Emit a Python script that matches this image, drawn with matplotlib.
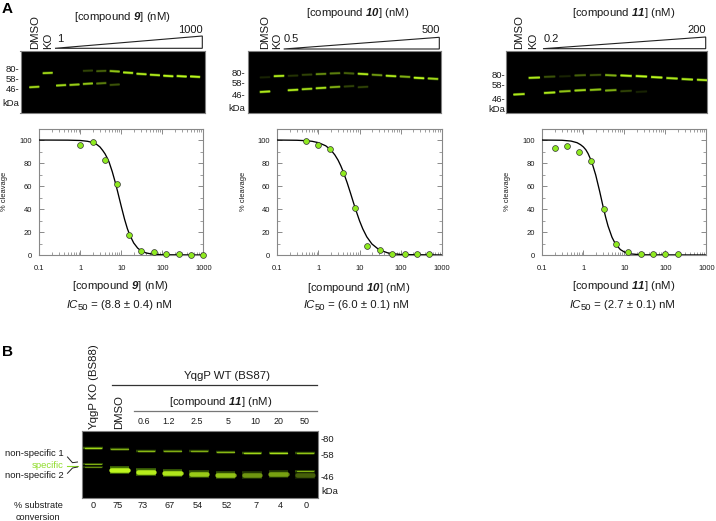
import numpy as np
import matplotlib
matplotlib.use("Agg")
import matplotlib.pyplot as plt
from matplotlib.patches import Polygon
from matplotlib.ticker import FixedLocator, FixedFormatter, LogLocator, NullFormatter

plt.rcParams['font.family'] = ['Liberation Sans', 'DejaVu Sans']
plt.rcParams['mathtext.fontset'] = 'custom'
plt.rcParams['mathtext.rm'] = 'Liberation Sans'
plt.rcParams['mathtext.it'] = 'Liberation Sans:italic'
plt.rcParams['mathtext.bf'] = 'Liberation Sans:bold'
plt.rcParams['mathtext.bfit'] = 'Liberation Sans:italic:bold'

W, H = 716, 521

# dose response points
x9 = [1, 2, 3.9, 7.8, 15.6, 31, 62, 125, 250, 500, 1000]
y9 = [96, 98, 83, 62, 17, 3.5, 3, 0.5, 0.5, 0.3, 0.3]
x10 = [0.49, 0.98, 1.95, 3.9, 7.8, 15.6, 31, 62, 125, 250, 500]
y10 = [99.5, 96, 92, 71.5, 41, 7.5, 4.5, 1, 1, 0.5, 0.5]
x11 = [0.2, 0.39, 0.78, 1.56, 3.1, 6.25, 12.5, 25, 50, 100, 200]
y11 = [93, 95, 90, 82, 40, 10, 2.5, 1, 0.5, 0.8, 1]

# fitted curves
cx9 = [0.1, 0.5, 1, 1.5, 2, 2.5, 3, 3.5, 4, 4.5, 5, 6, 7, 8, 9, 10, 12, 14, 16, 20, 25, 30, 40, 60, 100, 1000]
cy9 = [100, 99.9, 99.6, 98.9, 97.8, 96.2, 94, 91, 88, 84.5, 81, 72.5, 64, 56, 48.6, 42, 31, 23, 17.5, 10.5, 6, 3.8, 1.8, 0.6, 0.2, 0]
cx10 = [0.1, 0.3, 0.5, 0.7, 1, 1.5, 2, 2.5, 3, 3.5, 4, 5, 6, 7, 8, 10, 12, 15, 20, 30, 50, 100, 1000]
cy10 = [100, 99.8, 99.4, 98.9, 97.7, 95, 91.4, 87.1, 82.5, 77.5, 72.5, 62.8, 54, 46.3, 39.8, 29.7, 22.7, 15.8, 9.6, 4.5, 1.7, 0.4, 0]
cx11 = [0.1, 0.3, 0.5, 0.7, 0.85, 1, 1.15, 1.3, 1.6, 2, 2.5, 3, 3.5, 4, 5, 6, 8, 10, 15, 25, 50, 1000]
cy11 = [100, 99.8, 99.1, 97.7, 96, 94, 91.5, 88.3, 81, 69.6, 55.3, 42.7, 32.8, 25.2, 15.4, 9.9, 4.7, 2.6, 0.9, 0.2, 0.1, 0]

# gel A bands per lane (DMSO, KO, then the doses): height and brightness
g9_up = [np.nan, 73, np.nan, np.nan, 70.7, 71, 71.3, 72.7, 74, 75, 76, 76.3, 76.7]
g9_up_i = [0, 0.8, 0, 0, 0.2, 0.3, 0.7, 0.9, 0.9, 0.9, 1, 1, 1]
g9_lo = [87, np.nan, 85.3, 84.7, 83.7, 83.3, 84.7, np.nan, np.nan, np.nan, np.nan, np.nan, np.nan]
g9_lo_i = [0.8, 0, 0.8, 0.75, 0.7, 0.4, 0.25, 0, 0, 0, 0, 0, 0]

g10_up = [77.3, 76, 75.7, 74.7, 74, 73.3, 73.3, 74, 75, 76, 76.7, 78, 78.7]
g10_up_i = [0.1, 0.9, 0.15, 0.2, 0.45, 0.4, 0.3, 0.9, 0.5, 0.9, 0.6, 1, 0.8]
g10_lo = [91.7, np.nan, 90, 89, 88, 87, 86.3, 87, np.nan, np.nan, np.nan, np.nan, np.nan]
g10_lo_i = [0.9, 0, 0.9, 0.8, 0.85, 0.6, 0.2, 0.2, 0, 0, 0, 0, 0]

g11_up = [np.nan, 77.7, 76.7, 76.3, 75.3, 75, 75.3, 75.7, 76.3, 77.3, 78.3, 79.3, 80]
g11_up_i = [0, 0.9, 0.25, 0.1, 0.3, 0.25, 0.6, 0.95, 1, 1, 0.9, 0.9, 0.9]
g11_lo = [94.3, np.nan, 92.7, 91.3, 90.3, 89.7, 90.3, 91, 91.7, np.nan, np.nan, np.nan, np.nan]
g11_lo_i = [0.9, 0, 0.9, 0.7, 0.8, 0.7, 0.6, 0.2, 0.1, 0, 0, 0, 0]

# gel B bands
gb_top = [447.7, 449.3, 451.3, 451.3, 451, 452, 453, 453.3, 452.7]
gb_top_i = [0.8, 0.6, 0.65, 0.6, 0.6, 0.65, 0.8, 0.85, 0.7]
gb_spec = [np.nan, 470, 472.3, 473, 473.7, 475, 475, 474.3, 475]
gb_spec_i = [0, 1, 0.95, 0.9, 0.75, 0.7, 0.5, 0.55, 0.3]
gb_low1 = [463.7, np.nan, np.nan, np.nan, np.nan, np.nan, np.nan, np.nan, 471]
gb_low2 = [467, np.nan, np.nan, np.nan, np.nan, np.nan, np.nan, np.nan, np.nan]
gb_doses = ['0.6', '1.2', '2.5', '5', '10', '20', '50']
gb_conv = ['0', '75', '73', '67', '54', '52', '7', '4', '0']

ytick_major = [0, 20, 40, 60, 80, 100]
ytick_minor = [10, 30, 50, 70, 90]
xtick_major = [0.1, 1, 10, 100, 1000]
xtick_labels = ['0.1', '1', '10', '100', '1000']

TXT = '#1a1a1a'
GEL = '#bdf51e'
GLOW = '#5a9408'
MARK = '#8fea20'

fig = plt.figure(figsize=(W / 100, H / 100), dpi=100, facecolor='white')


def px_axes(x0, y0, x1, y1):
    return fig.add_axes([x0 / W, 1 - y1 / H, (x1 - x0) / W, (y1 - y0) / H])


def band(ax, i, y, level, half=0.38, thick=1.0, tilt=0.0):
    if np.isnan(y) or level <= 0:
        return
    # dim full width stroke, then a shorter bright core so the ends fade out
    ax.plot([i - half, i + half], [y + tilt, y - tilt], color=GLOW, lw=2.1 * thick, alpha=0.75 * level,
            solid_capstyle='butt')
    ax.plot([i - half * 0.85, i + half * 0.85], [y + tilt * 0.85, y - tilt * 0.85], color=GEL, lw=1.25 * thick,
            alpha=level, solid_capstyle='round')


def gel(box, first, step):
    x0, y0, x1, y1 = box
    ax = px_axes(x0, y0, x1, y1)
    ax.set_xlim((x0 - first) / step, (x1 - first) / step)
    ax.set_ylim(y1, y0)
    ax.set_facecolor('black')
    ax.set_xticks([])
    ax.set_yticks([])
    for s in ax.spines.values():
        s.set_color('#808080')
        s.set_linewidth(0.8)
    return ax


def gel_a(box, first, step, up, up_i, lo, lo_i):
    ax = gel(box, first, step)
    for i in range(len(up)):
        band(ax, i, up[i], up_i[i], tilt=-0.3 if i > 5 else 0.2)
        band(ax, i, lo[i], lo_i[i], tilt=0.3)


def curve_panel(box, px, py, cx, cy):
    ax = px_axes(*box)
    ax.set_xscale('log')
    ax.set_xlim(0.1, 1000)
    ax.set_ylim(0, 109.6)
    ax.plot(cx, cy, color='black', lw=0.95, zorder=3)
    ax.plot(px, py, 'o', ms=4.2, mfc=MARK, mec='#333333', mew=0.5, clip_on=False, zorder=4)
    ax.xaxis.set_major_locator(FixedLocator(xtick_major))
    ax.xaxis.set_major_formatter(FixedFormatter(xtick_labels))
    ax.xaxis.set_minor_locator(LogLocator(base=10, subs=np.arange(2, 10), numticks=10))
    ax.xaxis.set_minor_formatter(NullFormatter())
    ax.set_yticks(ytick_major)
    ax.set_yticks(ytick_minor, minor=True)
    ax.tick_params(axis='both', which='major', direction='in', top=True, right=True,
                   length=3.3, width=0.6, color='#777777', labelsize=5.5, labelcolor=TXT)
    ax.tick_params(axis='both', which='minor', direction='in', top=True, right=True,
                   length=2, width=0.5, color='#777777')
    ax.tick_params(axis='x', which='major', pad=7)
    ax.tick_params(axis='y', which='major', pad=5.5)
    for s in ax.spines.values():
        s.set_color('#888888')
        s.set_linewidth(0.8)
    return ax


gel_a((20.5, 51, 204.5, 113), 34.3, 13.4, g9_up, g9_up_i, g9_lo, g9_lo_i)
gel_a((247.7, 51, 441.3, 113), 265, 14, g10_up, g10_up_i, g10_lo, g10_lo_i)
gel_a((506.3, 51, 706.7, 113), 519, 15.3, g11_up, g11_up_i, g11_lo, g11_lo_i)

curve_panel((39.4, 129, 203.3, 255), x9, y9, cx9, cy9)
curve_panel((277.4, 129, 441.7, 255), x10, y10, cx10, cy10)
curve_panel((542.4, 129, 706.3, 255), x11, y11, cx11, cy11)

axb = gel((81.7, 430.7, 318.3, 498), 93, 26.5)
for i in range(len(gb_top)):
    band(axb, i, gb_top[i], gb_top_i[i], half=0.36, thick=0.85)
    band(axb, i, gb_spec[i], gb_spec_i[i], half=0.36, thick=2.6)
    band(axb, i, gb_low1[i], 0.6, half=0.36, thick=0.7)
    band(axb, i, gb_low2[i], 0.45, half=0.36, thick=0.7)

# everything else is placed in pixels on a see-through layer
ov = fig.add_axes([0, 0, 1, 1], facecolor='none')
ov.set_xlim(0, W)
ov.set_ylim(H, 0)
ov.axis('off')


def t(x, y, s, size=8.2, ha='center', va='center', rot=0, color=TXT, **kw):
    return ov.text(x, y, s, fontsize=size, ha=ha, va=va, rotation=rot, color=color, **kw)


t(2, 9, 'A', size=11, ha='left', weight='bold', color='black')
t(2, 352, 'B', size=11, ha='left', weight='bold', color='black')


def gel_labels(dx, kx, top, low, lowx, high, highx, tx, ty, names, marks, mx):
    t(dx, 49, 'DMSO', va='bottom', rot=90)
    t(kx, 49, 'KO', va='bottom', rot=90)
    t(lowx, 39.5, low, size=8, ha='left')
    t(highx, 30, high, size=8, ha='right')
    t(tx, ty, names)
    for lab, y in zip(['80-', '58-', '46-', 'kDa'], marks):
        t(mx, y, lab, size=6.8, ha='right')
    ov.add_patch(Polygon(top, closed=True, fc='white', ec='#222222', lw=0.8))


gel_labels(35, 47.7, [(55, 48.3), (202.3, 36), (202.3, 48.3)], '1', 57, '1000', 202.5, 122.7, 17,
           r'[compound $\mathbfit{9}$] (nM)', [70, 79, 90, 103], 19.5)
gel_labels(265, 277, [(283.7, 49), (439.3, 37.3), (439.3, 49)], '0.5', 284, '500', 439.5, 358, 13,
           r'[compound $\mathbfit{10}$] (nM)', [74, 84, 96, 108.7], 245.5)
gel_labels(519, 533, [(543, 48.7), (705.7, 37), (705.7, 48.7)], '0.2', 544, '200', 705.5, 624, 13.5,
           r'[compound $\mathbfit{11}$] (nM)', [76, 86, 99, 110], 505)


def ic50(xc, y, rest):
    # pieces laid out by measured width, the subscript is bigger than mathtext makes it
    r = fig.canvas.get_renderer()
    parts = [('IC', 8.2, 'italic', 0), ('50', 6.8, 'normal', 2.6), (' = ' + rest + ' nM', 8.2, 'normal', 0)]
    arts = [t(0, y + dy, s, size=sz, ha='left', style=st) for s, sz, st, dy in parts]
    widths = [a.get_window_extent(r).width for a in arts]
    x = xc - sum(widths) / 2
    for a, w in zip(arts, widths):
        a.set_x(x)
        x += w


for x, y, xl, il, comp, ic in [
    (120.7, 286, 119, 305, '9', '(8.8 ± 0.4)'),
    (359, 288, 356, 305, '10', '(6.0 ± 0.1)'),
    (624, 286, 622, 305, '11', '(2.7 ± 0.1)'),
]:
    t(x, y, r'[compound $\mathbfit{' + comp + r'}$] (nM)')
    ic50(xl, il, ic)

for x in [4.5, 243.5, 507.5]:
    t(x, 191, '% cleavage', size=5.4, rot=90)

# panel B labels
t(94, 429, 'YqgP KO (BS88)', va='bottom', rot=90)
t(119, 429, 'DMSO', va='bottom', rot=90)
ov.plot([112, 317], [384.7, 384.7], color='#333333', lw=0.9)
t(227, 375.7, 'YqgP WT (BS87)')
t(221, 402, r'[compound $\mathbfit{11}$] (nM)')
ov.plot([134, 317], [411, 411], color='#777777', lw=0.9)
for x, s in zip([144, 169, 197, 228, 255, 279, 305], gb_doses):
    t(x, 422, s, size=6.4)
for y, s in zip([440, 455, 477], ['-80', '-58', '-46']):
    t(321, y, s, size=6.8, ha='left')
t(321, 491, 'kDa', size=6.8, ha='left')
for x, s in zip([93, 118, 143, 170, 198, 227, 256, 280, 306], gb_conv):
    t(x, 505.7, s, size=6.6)
t(38, 505.7, '% substrate', size=6.6)
t(38, 517, 'conversion', size=6.6)
t(64, 454, 'non-specific 1', size=6.8, ha='right')
t(64, 465, 'specific', size=6.8, ha='right', color='#8fdc2a')
t(64, 476, 'non-specific 2', size=6.8, ha='right')
ov.plot([67.5, 72.5, 77.5], [457, 462.7, 462], color='#222222', lw=0.7)
ov.plot([66.5, 77.5], [465.7, 465.7], color='#8fdc2a', lw=0.8)
ov.plot([67.5, 72.5, 77.5], [473.3, 468, 467], color='#222222', lw=0.7)

fig.savefig('out.png', dpi=100)
